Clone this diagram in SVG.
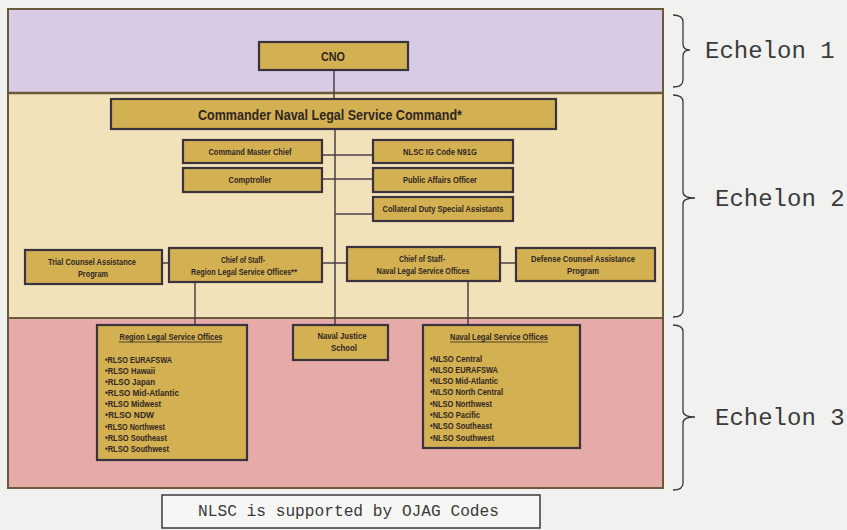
<svg xmlns="http://www.w3.org/2000/svg" width="847" height="530" viewBox="0 0 847 530">
<style>
.box{fill:#d3b052;stroke:#3b3240;stroke-width:2.2}
.sh{fill:#7a6a55;opacity:.55}
.t{font-family:"Liberation Sans",Arial,sans-serif;font-weight:bold;fill:#2f2622;text-anchor:middle}
.s{font-size:9px}
.li{font-family:"Liberation Sans",Arial,sans-serif;font-weight:bold;fill:#2f2622;font-size:9.5px}
.m{font-family:"Liberation Mono","Courier New",monospace;fill:#3a3a3a}
.ln{stroke:#4a4048;stroke-width:1.5;fill:none}
.br{stroke:#3a3a3a;stroke-width:1.3;fill:none}
</style>
<rect width="847" height="530" fill="#f1f1f0"/>
<g id="bands">
<rect x="8" y="9" width="655" height="84" fill="#d7cbe5"/>
<rect x="8" y="93" width="655" height="225" fill="#f2e2ba"/>
<rect x="8" y="318" width="655" height="170" fill="#e6aaa8"/>
<rect x="8" y="9" width="655" height="479" fill="none" stroke="#6b5a3a" stroke-width="2"/>
<line x1="8" y1="93" x2="663" y2="93" stroke="#6b5a3a" stroke-width="2.5"/>
<line x1="8" y1="318" x2="663" y2="318" stroke="#6b5a3a" stroke-width="2"/>
</g>
<g id="connectors">
<line class="ln" x1="334" y1="70" x2="334" y2="99"/>
<line class="ln" x1="335" y1="129" x2="335" y2="325"/>
<line class="ln" x1="322" y1="155" x2="373" y2="155"/>
<line class="ln" x1="322" y1="179" x2="373" y2="179"/>
<line class="ln" x1="335" y1="214" x2="373" y2="214"/>
<line class="ln" x1="162" y1="263" x2="169" y2="263"/>
<line class="ln" x1="322" y1="263" x2="347" y2="263"/>
<line class="ln" x1="500" y1="263" x2="516" y2="263"/>
<line class="ln" x1="195" y1="282" x2="195" y2="325"/>
<line class="ln" x1="468" y1="281" x2="468" y2="325"/>
</g>
<g id="cno">
<rect class="box" x="259" y="42" width="149" height="28"/>
<text class="t" x="333" y="61" font-size="12" textLength="24" lengthAdjust="spacingAndGlyphs">CNO</text>
</g>
<g id="commander">
<rect class="box" x="111" y="99" width="445" height="30"/>
<text class="t" x="330" y="120" font-size="14.5" textLength="264" lengthAdjust="spacingAndGlyphs">Commander Naval Legal Service Command*</text>
</g>
<g id="cmc">
<rect class="box" x="183" y="140" width="139" height="23"/>
<text class="t s" x="250" y="155" textLength="83" lengthAdjust="spacingAndGlyphs">Command Master Chief</text>
</g>
<g id="comptroller">
<rect class="box" x="183" y="168" width="139" height="24"/>
<text class="t s" x="250" y="183" textLength="43" lengthAdjust="spacingAndGlyphs">Comptroller</text>
</g>
<g id="ig">
<rect class="box" x="373" y="140" width="140" height="23"/>
<text class="t s" x="440" y="155" textLength="74" lengthAdjust="spacingAndGlyphs">NLSC IG Code N91G</text>
</g>
<g id="pao">
<rect class="box" x="373" y="168" width="140" height="24"/>
<text class="t s" x="440" y="183" textLength="74" lengthAdjust="spacingAndGlyphs">Public Affairs Officer</text>
</g>
<g id="collateral">
<rect class="box" x="373" y="197" width="140" height="24"/>
<text class="t s" x="443" y="212" textLength="121" lengthAdjust="spacingAndGlyphs">Collateral Duty Special Assistants</text>
</g>
<g id="trial">
<rect class="box" x="25" y="250" width="137" height="34"/>
<text class="t s" x="92" y="265" textLength="88" lengthAdjust="spacingAndGlyphs">Trial Counsel Assistance</text>
<text class="t s" x="93" y="277" textLength="30" lengthAdjust="spacingAndGlyphs">Program</text>
</g>
<g id="cos-region">
<rect class="box" x="169" y="248" width="153" height="34"/>
<text class="t s" x="243" y="263" textLength="44" lengthAdjust="spacingAndGlyphs">Chief of Staff-</text>
<text class="t s" x="244" y="275" textLength="106" lengthAdjust="spacingAndGlyphs">Region Legal Service Offices**</text>
</g>
<g id="cos-naval">
<rect class="box" x="347" y="247" width="153" height="34"/>
<text class="t s" x="422" y="262" textLength="46" lengthAdjust="spacingAndGlyphs">Chief of Staff-</text>
<text class="t s" x="423" y="274" textLength="93" lengthAdjust="spacingAndGlyphs">Naval Legal Service Offices</text>
</g>
<g id="defense">
<rect class="box" x="516" y="248" width="139" height="33"/>
<text class="t s" x="583" y="262" textLength="104" lengthAdjust="spacingAndGlyphs">Defense Counsel Assistance</text>
<text class="t s" x="583" y="274" textLength="32" lengthAdjust="spacingAndGlyphs">Program</text>
</g>
<g id="rlso">
<rect class="box" x="97" y="325" width="150" height="135"/>
<text class="t s" x="171" y="340" textLength="103" lengthAdjust="spacingAndGlyphs">Region Legal Service Offices</text>
<line x1="119" y1="342" x2="222" y2="342" stroke="#2f2622" stroke-width="0.8"/>
<text class="li" x="105" y="363" textLength="67" lengthAdjust="spacingAndGlyphs">•RLSO EURAFSWA</text>
<text class="li" x="105" y="374" textLength="50" lengthAdjust="spacingAndGlyphs">•RLSO Hawaii</text>
<text class="li" x="105" y="385" textLength="50" lengthAdjust="spacingAndGlyphs">•RLSO Japan</text>
<text class="li" x="105" y="396" textLength="74" lengthAdjust="spacingAndGlyphs">•RLSO Mid-Atlantic</text>
<text class="li" x="105" y="407" textLength="56" lengthAdjust="spacingAndGlyphs">•RLSO Midwest</text>
<text class="li" x="105" y="418" textLength="49" lengthAdjust="spacingAndGlyphs">•RLSO NDW</text>
<text class="li" x="105" y="430" textLength="60" lengthAdjust="spacingAndGlyphs">•RLSO Northwest</text>
<text class="li" x="105" y="441" textLength="62" lengthAdjust="spacingAndGlyphs">•RLSO Southeast</text>
<text class="li" x="105" y="452" textLength="64" lengthAdjust="spacingAndGlyphs">•RLSO Southwest</text>
</g>
<g id="njs">
<rect class="box" x="293" y="325" width="95" height="35"/>
<text class="t s" x="342" y="339" textLength="49" lengthAdjust="spacingAndGlyphs">Naval Justice</text>
<text class="t s" x="344" y="351" textLength="26" lengthAdjust="spacingAndGlyphs">School</text>
</g>
<g id="nlso">
<rect class="box" x="423" y="325" width="157" height="123"/>
<text class="t s" x="499" y="340" textLength="98" lengthAdjust="spacingAndGlyphs">Naval Legal Service Offices</text>
<line x1="450" y1="342" x2="548" y2="342" stroke="#2f2622" stroke-width="0.8"/>
<text class="li" x="430" y="362" textLength="52" lengthAdjust="spacingAndGlyphs">•NLSO Central</text>
<text class="li" x="430" y="373" textLength="68" lengthAdjust="spacingAndGlyphs">•NLSO EURAFSWA</text>
<text class="li" x="430" y="384" textLength="68" lengthAdjust="spacingAndGlyphs">•NLSO Mid-Atlantic</text>
<text class="li" x="430" y="395" textLength="73" lengthAdjust="spacingAndGlyphs">•NLSO North Central</text>
<text class="li" x="430" y="407" textLength="62" lengthAdjust="spacingAndGlyphs">•NLSO Northwest</text>
<text class="li" x="430" y="418" textLength="50" lengthAdjust="spacingAndGlyphs">•NLSO Pacific</text>
<text class="li" x="430" y="429" textLength="62" lengthAdjust="spacingAndGlyphs">•NLSO Southeast</text>
<text class="li" x="430" y="441" textLength="64" lengthAdjust="spacingAndGlyphs">•NLSO Southwest</text>
</g>
<g id="echelons">
<path class="br" d="M673 15 Q683 15 683 22 L683 44 Q683 50 690 50 Q683 50 683 56 L683 80 Q683 87 673 87"/>
<path class="br" d="M673 95 Q683 95 683 102 L683 192 Q683 198 695 198 Q683 198 683 204 L683 310 Q683 317 673 317"/>
<path class="br" d="M673 325 Q683 325 683 332 L683 411 Q683 417 695 417 Q683 417 683 423 L683 483 Q683 490 673 490"/>
<text class="m" x="705" y="58" font-size="24">Echelon 1</text>
<text class="m" x="715" y="206" font-size="24">Echelon 2</text>
<text class="m" x="715" y="425" font-size="24">Echelon 3</text>
</g>
<g id="note">
<rect x="162" y="495" width="378" height="33" fill="#f6f6f5" stroke="#3a3a3a" stroke-width="1.5"/>
<text class="m" x="198" y="516" font-size="16" textLength="301" lengthAdjust="spacingAndGlyphs">NLSC is supported by OJAG Codes</text>
</g>
</svg>
